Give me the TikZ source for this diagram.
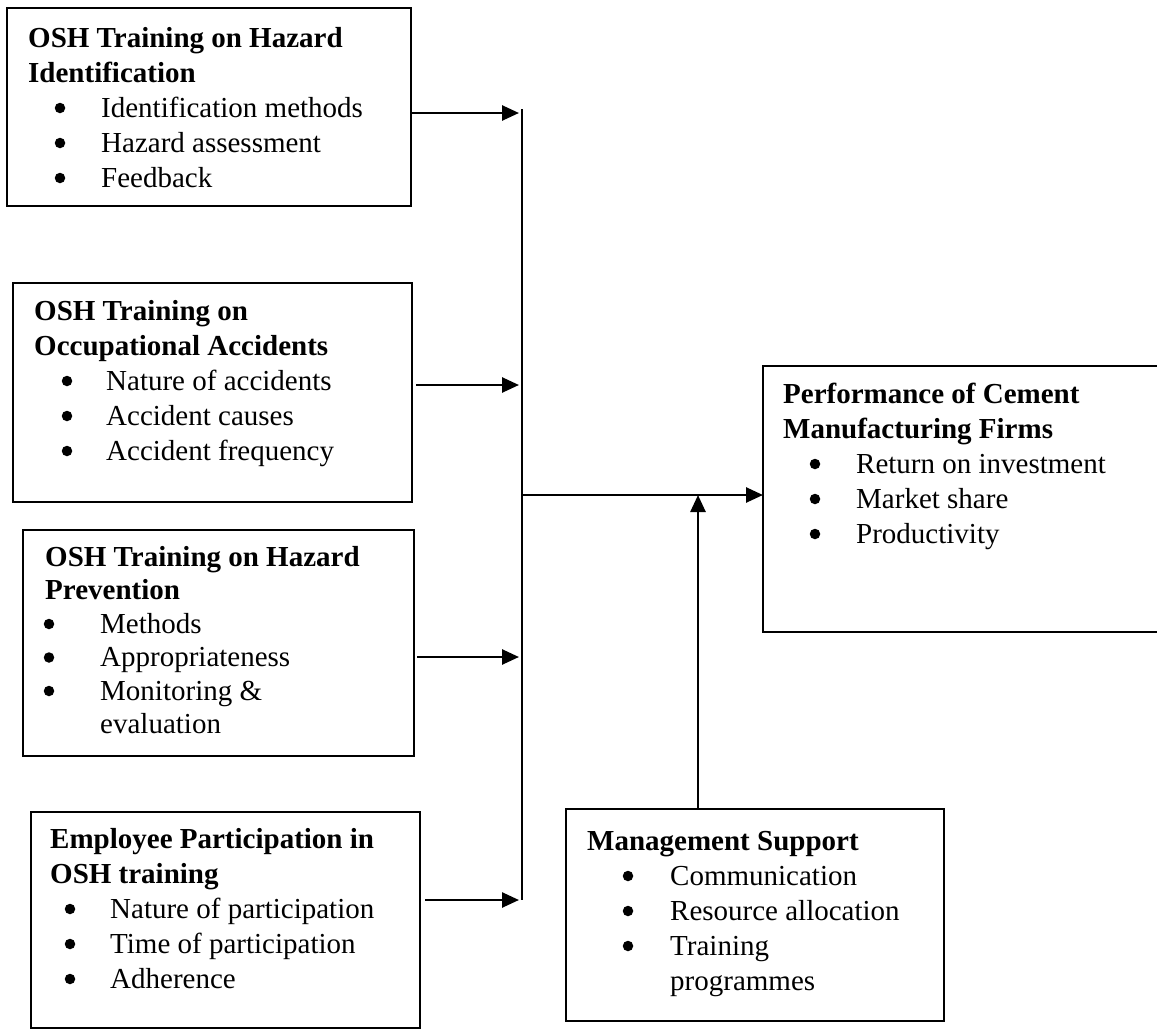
\documentclass[tikz,border=0pt]{standalone}
\usepackage{fontspec}
\setmainfont{Liberation Serif}
\usetikzlibrary{arrows.meta}
\begin{document}
\begin{tikzpicture}[x=1pt,y=-1pt,
  box/.style={draw, line width=2pt, inner sep=0pt, outer sep=0pt, anchor=north west},
  txt/.style={anchor=base west, inner sep=0pt, font=\fontsize{29}{35}\selectfont},
  ttl/.style={anchor=base west, inner sep=0pt, font=\fontsize{29}{35}\selectfont\bfseries},
  bul/.style={circle, fill=black, inner sep=0pt, minimum size=10.5pt},
  conn/.style={line width=2.6pt, -{Triangle[length=17pt,width=15pt]}},
  bus/.style={line width=2pt},
]
\useasboundingbox (0,0) rectangle (1157,1036);
\fill[white] (0,0) rectangle (1157,1036);

% boxes
\node[box, minimum width=404pt, minimum height=198pt] (b1) at (7,8) {};
\node[box, minimum width=399pt, minimum height=219pt] (b2) at (13,283) {};
\node[box, minimum width=391pt, minimum height=226pt] (b3) at (23,530) {};
\node[box, minimum width=389pt, minimum height=216pt] (b4) at (31,812) {};
\node[box, minimum width=420pt, minimum height=266pt] (b5) at (763,366) {};
\node[box, minimum width=378pt, minimum height=212pt] (b6) at (566,809) {};

% box 1 text
\node[ttl] (t1a) at (28,47) {OSH Training on Hazard};
\node[ttl] (t1b) at (28,82) {Identification};
\node[bul] (p1a) at (60,108) {}; \node[txt] (i1a) at (101,117) {Identification methods};
\node[bul] (p1b) at (60,143) {}; \node[txt] (i1b) at (101,152) {Hazard assessment};
\node[bul] (p1c) at (60,178) {}; \node[txt] (i1c) at (101,187) {Feedback};

% box 2 text
\node[ttl] (t2a) at (34,320) {OSH Training on};
\node[ttl] (t2b) at (34,355) {Occupational Accidents};
\node[bul] (p2a) at (67,381) {}; \node[txt] (i2a) at (106,390) {Nature of accidents};
\node[bul] (p2b) at (67,416) {}; \node[txt] (i2b) at (106,425) {Accident causes};
\node[bul] (p2c) at (67,451) {}; \node[txt] (i2c) at (106,460) {Accident frequency};

% box 3 text
\node[ttl] (t3a) at (45,566) {OSH Training on Hazard};
\node[ttl] (t3b) at (45,599.5) {Prevention};
\node[bul] (p3a) at (49,624) {}; \node[txt] (i3a) at (100,633) {Methods};
\node[bul] (p3b) at (49,657.5) {}; \node[txt] (i3b) at (100,666.5) {Appropriateness};
\node[bul] (p3c) at (49,691) {}; \node[txt] (i3c) at (100,700) {Monitoring \&};
\node[txt] (i3d) at (100,733.5) {evaluation};

% box 4 text
\node[ttl] (t4a) at (50,848) {Employee Participation in};
\node[ttl] (t4b) at (50,883) {OSH training};
\node[bul] (p4a) at (70,909) {}; \node[txt] (i4a) at (110,918) {Nature of participation};
\node[bul] (p4b) at (70,944) {}; \node[txt] (i4b) at (110,953) {Time of participation};
\node[bul] (p4c) at (70,979) {}; \node[txt] (i4c) at (110,988) {Adherence};

% box 5 text
\node[ttl] (t5a) at (783,403) {Performance of Cement};
\node[ttl] (t5b) at (783,438) {Manufacturing Firms};
\node[bul] (p5a) at (815,464) {}; \node[txt] (i5a) at (856,473) {Return on investment};
\node[bul] (p5b) at (815,499) {}; \node[txt] (i5b) at (856,508) {Market share};
\node[bul] (p5c) at (815,534) {}; \node[txt] (i5c) at (856,543) {Productivity};

% box 6 text
\node[ttl] (t6a) at (587,850) {Management Support};
\node[bul] (p6a) at (628,876) {}; \node[txt] (i6a) at (670,885) {Communication};
\node[bul] (p6b) at (628,911) {}; \node[txt] (i6b) at (670,920) {Resource allocation};
\node[bul] (p6c) at (628,946) {}; \node[txt] (i6c) at (670,955) {Training};
\node[txt] (i6d) at (670,990) {programmes};

% connectors
\coordinate (v1) at (522,113);
\coordinate (v2) at (522,385);
\coordinate (v3) at (522,657);
\coordinate (v4) at (522,900);
\coordinate (vtop) at (522,109);
\coordinate (j) at (522,495);
\coordinate (m) at (698,495);

\draw[bus] (vtop) -- (v4);
\draw[conn, shorten >=3pt] (b1.east |- v1) -- (v1);
\draw[conn, shorten >=3pt] ([xshift=4pt]b2.east |- v2) -- (v2);
\draw[conn, shorten >=3pt] ([xshift=3pt]b3.east |- v3) -- (v3);
\draw[conn, shorten >=3pt] ([xshift=5pt]b4.east |- v4) -- (v4);
\draw[conn] (j) -- (b5.west |- j);
\draw[conn] (b6.north -| m) -- (m);
\end{tikzpicture}
\end{document}
